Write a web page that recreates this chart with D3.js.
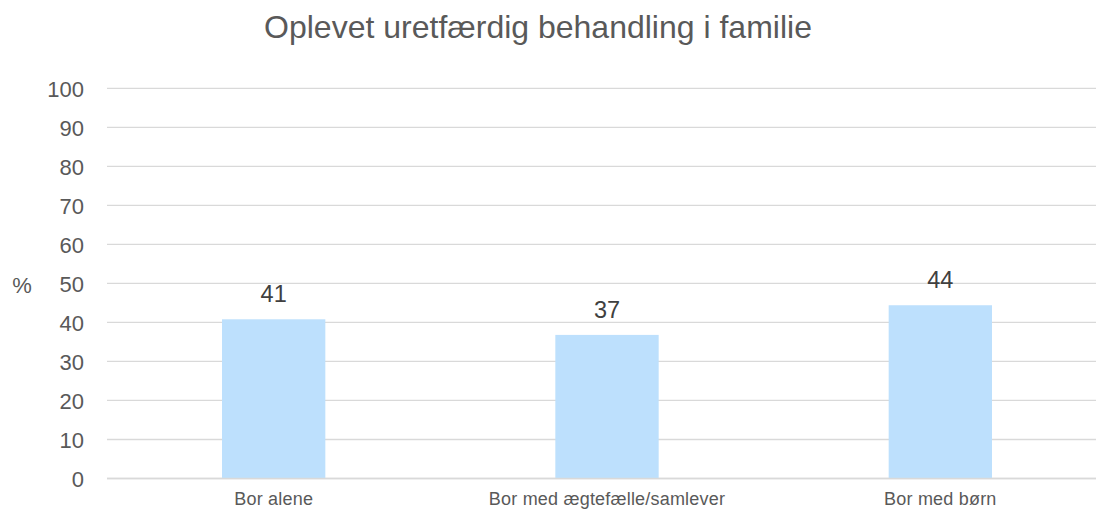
<!DOCTYPE html>
<html>
<head>
<meta charset="utf-8">
<script src="https://cdn.jsdelivr.net/npm/d3@7"></script>
<style>
  body { margin: 0; background: #fff; }
  text { font-family: "Liberation Sans", Arial, sans-serif; }
</style>
</head>
<body>
<script>
var categories = ["Bor alene", "Bor med ægtefælle/samlever", "Bor med børn"];
var values = [40.8, 36.8, 44.4];
var yTicks = [0, 10, 20, 30, 40, 50, 60, 70, 80, 90, 100];
var title = "Oplevet uretfærdig behandling i familie";

var svg = d3.select("body").append("svg")
    .attr("width", 1096)
    .attr("height", 511);

var x = d3.scaleBand()
    .domain(categories)
    .range([107, 1107])
    .paddingInner(0.69)
    .paddingOuter(0.345);

var y = d3.scaleLinear()
    .domain([0, 100])
    .range([478.5, 88.3]);

// gridlines
svg.selectAll("line.grid")
    .data(yTicks)
    .enter().append("line")
    .attr("class", "grid")
    .attr("x1", 107)
    .attr("x2", 1096)
    .attr("y1", function(d){ return y(d); })
    .attr("y2", function(d){ return y(d); })
    .attr("stroke", "#d9d9d9")
    .attr("stroke-width", 1.3);

// y axis labels
var yAxis = d3.axisLeft(y).tickValues(yTicks).tickSize(0).tickPadding(0);
svg.append("g")
    .attr("transform", "translate(84,1)")
    .call(yAxis)
    .call(function(g){ g.select(".domain").remove(); })
    .selectAll("text")
    .attr("font-size", 22)
    .attr("font-family", "Liberation Sans, Arial, sans-serif")
    .attr("fill", "#595959");

svg.append("text")
    .attr("x", 22)
    .attr("y", 293)
    .attr("text-anchor", "middle")
    .attr("font-size", 22)
    .attr("fill", "#595959")
    .text("%");

// bars
svg.selectAll("rect.bar")
    .data(values)
    .enter().append("rect")
    .attr("class", "bar")
    .attr("x", function(d, i){ return x(categories[i]); })
    .attr("width", x.bandwidth())
    .attr("y", function(d){ return y(d); })
    .attr("height", function(d){ return y(0) - y(d); })
    .attr("fill", "#bde0fd");

// baseline
svg.append("line")
    .attr("x1", 107).attr("x2", 1096)
    .attr("y1", y(0)).attr("y2", y(0))
    .attr("stroke", "#d9d9d9")
    .attr("stroke-width", 1.5);

// data labels
svg.selectAll("text.val")
    .data(values)
    .enter().append("text")
    .attr("class", "val")
    .attr("x", function(d, i){ return x(categories[i]) + x.bandwidth() / 2; })
    .attr("y", function(d){ return y(d) - 17; })
    .attr("text-anchor", "middle")
    .attr("font-size", 23.5)
    .attr("fill", "#404040")
    .text(function(d){ return d3.format(".0f")(d); });

// category labels
svg.selectAll("text.cat")
    .data(categories)
    .enter().append("text")
    .attr("class", "cat")
    .attr("x", function(d){ return x(d) + x.bandwidth() / 2; })
    .attr("y", 505)
    .attr("text-anchor", "middle")
    .attr("font-size", 18)
    .attr("letter-spacing", 0.2)
    .attr("fill", "#595959")
    .text(function(d){ return d; });

// title
svg.append("text")
    .attr("x", 538)
    .attr("y", 38)
    .attr("text-anchor", "middle")
    .attr("font-size", 32)
    .attr("fill", "#595959")
    .text(title);
</script>
</body>
</html>
